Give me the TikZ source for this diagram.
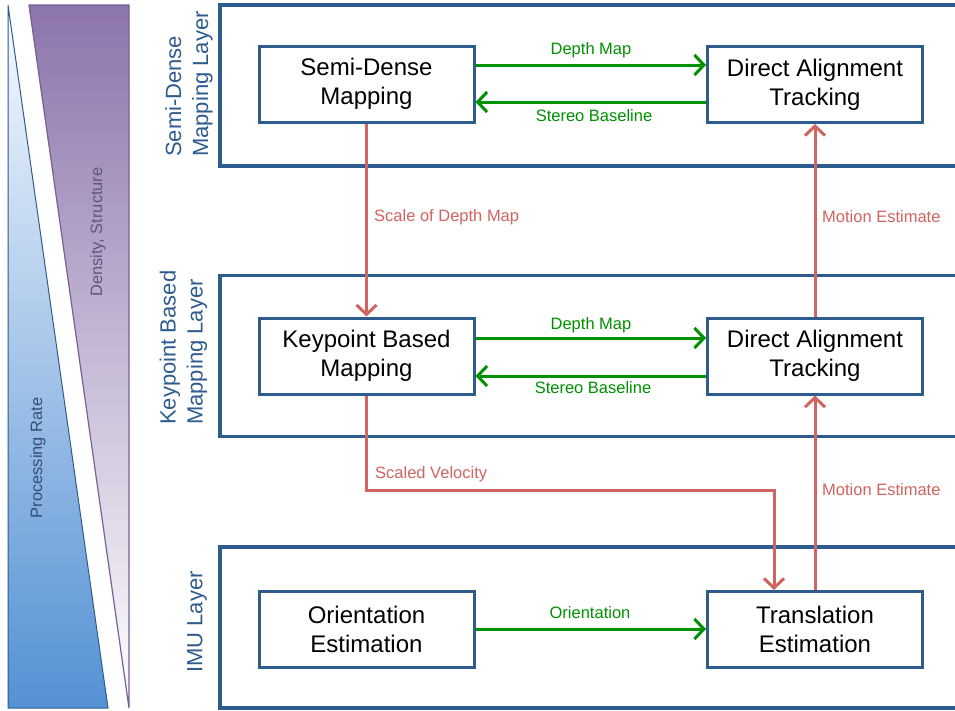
\documentclass[tikz,border=0pt]{standalone}
\usepackage{fontspec}
\setmainfont{Liberation Sans}
\usetikzlibrary{arrows.meta}
\definecolor{boxblue}{RGB}{46,92,143}
\definecolor{arrgreen}{RGB}{0,145,0}
\definecolor{arrred}{RGB}{208,100,96}
\definecolor{triblue}{RGB}{84,145,212}
\definecolor{trimid}{RGB}{190,214,240}
\definecolor{trilight}{RGB}{248,250,254}
\definecolor{tripurple}{RGB}{140,116,172}
\definecolor{purplemid}{RGB}{196,180,214}
\definecolor{purpleline}{RGB}{120,96,150}
\definecolor{ratetext}{RGB}{52,78,115}
\definecolor{denstext}{RGB}{98,84,128}
\begin{document}
\begin{tikzpicture}[x=1pt,y=-1pt,
  innerbox/.style={draw=boxblue,line width=3pt,minimum width=215pt,minimum height=76pt,
    align=center,font=\fontsize{24}{29}\selectfont,inner sep=0pt},
  layerbox/.style={draw=boxblue,line width=3.5pt,minimum width=746pt,minimum height=161pt,inner sep=0pt},
  layerlabel/.style={rotate=90,align=left,anchor=west,inner sep=0pt,text=boxblue,
    font=\fontsize{22}{27}\selectfont},
  garrow/.style={draw=arrgreen,line width=3pt,-{Straight Barb[length=9.5pt,width=20pt]}},
  rarrow/.style={draw=arrred,line width=3pt,-{Straight Barb[length=9.5pt,width=20pt]}},
  glabel/.style={text=arrgreen,inner sep=0pt,font=\fontsize{16.5}{20}\selectfont},
  rlabel/.style={text=arrred,inner sep=0pt,anchor=west,font=\fontsize{16.5}{20}\selectfont},
  sidelabel/.style={rotate=90,inner sep=0pt,font=\fontsize{16.4}{20}\selectfont}]
\useasboundingbox (0,0) rectangle (955,710);
\fill[white] (0,0) rectangle (955,710);
\clip (0,0) rectangle (955,710);

% side wedges
\shadedraw[top color=trilight,middle color=trimid,bottom color=triblue,draw=boxblue,line width=1pt]
  (8,5) -- (108,708) -- (8,708) -- cycle;
\shadedraw[top color=tripurple,middle color=purplemid,bottom color=white,draw=purpleline,line width=1.2pt]
  (29,5) -- (129,5) -- (129,708) -- cycle;
\node[sidelabel,text=ratetext] (rate) at (38,458) {Processing Rate};
\node[sidelabel,text=denstext] (dens) at (98,232) {Density, Structure};

% layers
\node[layerbox] (L1) at (593,85.5) {};
\node[layerbox] (L2) at (593,356) {};
\node[layerbox] (L3) at (593,627.5) {};
\node[layerlabel] (T1) at (189,157) {Semi-Dense\\Mapping Layer};
\node[layerlabel] (T2) at (183.5,425) {Keypoint Based\\Mapping Layer};
\node[layerlabel] (T3) at (197,673) {IMU Layer};

% inner boxes
\node[innerbox] (SDM) at (366.5,84) {\raisebox{-2pt}{Semi-Dense}\\\raisebox{-2pt}{Mapping}};
\node[innerbox] (DAT1) at (815,84.5) {\raisebox{-2pt}{Direct Alignment}\\\raisebox{-2pt}{Tracking}};
\node[innerbox] (KBM) at (366.5,356) {\raisebox{-2pt}{Keypoint Based}\\\raisebox{-2pt}{Mapping}};
\node[innerbox] (DAT2) at (815,356) {\raisebox{-2pt}{Direct Alignment}\\\raisebox{-2pt}{Tracking}};
\node[innerbox] (OE) at (366.5,629.5) {Orientation\\Estimation};
\node[innerbox] (TE) at (815,629.5) {Translation\\Estimation};

% green arrows
\draw[garrow] (SDM.east |- 0,65) -- (DAT1.west |- 0,65);
\draw[garrow] (DAT1.west |- 0,102) -- (SDM.east |- 0,102);
\draw[garrow] (KBM.east |- 0,338) -- (DAT2.west |- 0,338);
\draw[garrow] (DAT2.west |- 0,376) -- (KBM.east |- 0,376);
\draw[garrow] (OE.east |- 0,629) -- (TE.west |- 0,629);
\node[glabel] (g1) at (591,50) {Depth Map};
\node[glabel] (g2) at (594,116) {Stereo Baseline};
\node[glabel] (g3) at (591,325) {Depth Map};
\node[glabel] (g4) at (593,388) {Stereo Baseline};
\node[glabel] (g5) at (590,613) {Orientation};

% red arrows
\draw[rarrow] (SDM.south) -- (KBM.north);
\draw[rarrow] (DAT2.north) -- (DAT1.south);
\draw[rarrow] (TE.north) -- (DAT2.south);
\coordinate (bend) at (774,490);
\draw[rarrow] (KBM.south) |- (bend) -- (bend |- TE.north);
\node[rlabel] (r1) at (374,217) {Scale of Depth Map};
\node[rlabel] (r2) at (822,217) {Motion Estimate};
\node[rlabel] (r3) at (375,474) {Scaled Velocity};
\node[rlabel] (r4) at (822,490) {Motion Estimate};
\end{tikzpicture}
\end{document}
